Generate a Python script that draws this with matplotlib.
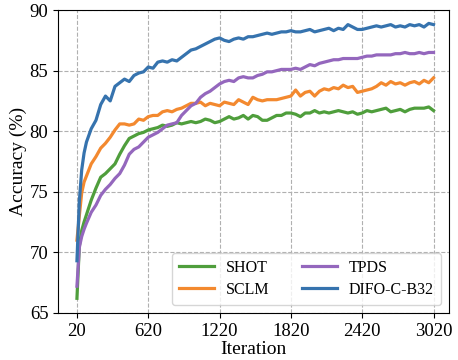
import matplotlib
matplotlib.use("Agg")
import matplotlib.pyplot as plt

iters = [20, 40, 60, 80] + list(range(100, 3021, 40))

shot = [66.2, 70.5, 71.8, 72.5, 73.1, 74.3, 75.3, 76.2, 76.5, 76.9, 77.3, 78.1, 78.8, 79.4, 79.6,
        79.8, 79.9, 80.1, 80.2, 80.3, 80.5, 80.4, 80.5, 80.7, 80.6, 80.7, 80.8, 80.7, 80.8, 81.0,
        80.9, 80.7, 80.8, 81.0, 81.2, 81.0, 81.1, 81.3, 81.0, 81.3, 81.2, 80.9, 80.9, 81.1, 81.3,
        81.3, 81.5, 81.5, 81.4, 81.2, 81.5, 81.5, 81.7, 81.5, 81.6, 81.5, 81.6, 81.7, 81.6, 81.5,
        81.6, 81.4, 81.5, 81.7, 81.6, 81.7, 81.8, 81.9, 81.6, 81.7, 81.8, 81.6, 81.8, 81.9, 81.9,
        81.9, 82.0, 81.7]

sclm = [71.0, 73.0, 74.9, 75.8, 76.3, 77.3, 77.9, 78.6, 79.0, 79.5, 80.1, 80.6, 80.6, 80.5, 80.6,
        81.0, 80.9, 81.2, 81.3, 81.3, 81.6, 81.7, 81.6, 81.8, 81.9, 82.1, 82.3, 82.3, 82.4, 82.1,
        82.3, 82.2, 82.1, 82.4, 82.3, 82.2, 82.6, 82.4, 82.2, 82.8, 82.6, 82.5, 82.6, 82.6, 82.6,
        82.7, 82.8, 82.9, 83.4, 82.9, 83.2, 83.3, 82.9, 83.3, 83.5, 83.4, 83.6, 83.5, 83.8, 83.6,
        83.7, 83.2, 83.3, 83.4, 83.5, 83.7, 84.0, 83.8, 84.1, 83.9, 84.0, 83.8, 84.0, 84.1, 83.9,
        84.2, 84.0, 84.4]

tpds = [67.2, 70.4, 71.3, 71.9, 72.4, 73.3, 73.9, 74.7, 75.2, 75.6, 76.1, 76.5, 77.2, 78.1, 78.5,
        78.7, 79.1, 79.5, 79.7, 79.9, 80.2, 80.5, 80.6, 80.7, 81.3, 81.7, 82.1, 82.3, 82.8, 83.1,
        83.3, 83.6, 83.9, 84.1, 84.2, 84.1, 84.4, 84.5, 84.4, 84.4, 84.6, 84.7, 84.9, 84.9, 85.0,
        85.1, 85.1, 85.1, 85.2, 85.1, 85.3, 85.5, 85.4, 85.6, 85.7, 85.8, 85.9, 85.9, 86.0, 86.0,
        86.0, 86.0, 86.1, 86.2, 86.2, 86.3, 86.3, 86.3, 86.3, 86.4, 86.4, 86.5, 86.4, 86.4, 86.5,
        86.4, 86.5, 86.5]

difo = [69.3, 74.2, 76.8, 78.2, 79.1, 80.2, 80.9, 82.2, 82.9, 82.5, 83.7, 84.0, 84.3, 84.1, 84.6,
        84.8, 84.9, 85.3, 85.2, 85.7, 85.8, 85.7, 85.9, 85.8, 86.1, 86.4, 86.7, 86.8, 87.0, 87.2,
        87.4, 87.6, 87.7, 87.5, 87.4, 87.6, 87.7, 87.6, 87.8, 87.8, 87.9, 88.0, 88.1, 88.0, 88.1,
        88.2, 88.2, 88.3, 88.2, 88.2, 88.3, 88.4, 88.2, 88.3, 88.4, 88.5, 88.3, 88.5, 88.4, 88.8,
        88.6, 88.4, 88.4, 88.5, 88.6, 88.7, 88.6, 88.7, 88.8, 88.6, 88.7, 88.6, 88.8, 88.7, 88.8,
        88.6, 88.9, 88.8]

xticks = [20, 620, 1220, 1820, 2420, 3020]
yticks = [65, 70, 75, 80, 85, 90]

plt.rcParams['font.family'] = ['Liberation Serif', 'DejaVu Serif']

fig = plt.figure(figsize=(4.58, 3.60), dpi=100)
ax = fig.add_axes([0.127, 0.131, 0.853, 0.841])

ax.plot(iters, shot, color='#4f9e3c', lw=2.3, label='SHOT')
ax.plot(iters, sclm, color='#f3892f', lw=2.3, label='SCLM')
ax.plot(iters, tpds, color='#9467bd', lw=2.3, label='TPDS')
ax.plot(iters, difo, color='#3673ae', lw=2.3, label='DIFO-C-B32')

ax.set_xlim(-138, 3149)
ax.set_ylim(65, 90)
ax.set_xticks(xticks)
ax.set_yticks(yticks)
ax.tick_params(labelsize=13.5, length=3.5)
ax.grid(True, linestyle='--', color='#b0b0b0', lw=0.8)
ax.set_axisbelow(True)
ax.set_xlabel('Iteration', fontsize=14, labelpad=1)
ax.set_ylabel('Accuracy (%)', fontsize=14, labelpad=2)

ax.legend(loc='lower right', ncol=2, fontsize=11.5, frameon=True, fancybox=True,
          handlelength=2.2, handletextpad=0.75, columnspacing=2.0, borderpad=0.45,
          labelspacing=0.35)

fig.savefig('out.png', dpi=100)
